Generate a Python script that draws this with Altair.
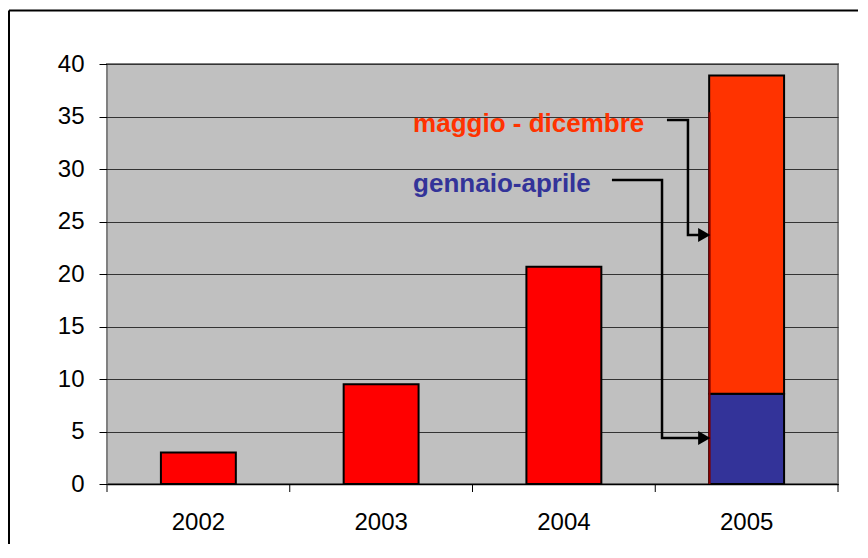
import altair as alt
import pandas as pd

# ---- bar data ----
years = ["2002", "2003", "2004", "2005", "2005"]
parts = ["anno", "anno", "anno", "gennaio-aprile", "maggio - dicembre"]
values = [3.0, 9.5, 20.7, 8.6, 30.3]
bar_colors = ["#FF0000", "#FF0000", "#FF0000", "#333399", "#FF3300"]
stack_order = [0, 0, 0, 0, 1]

# ---- annotation data (x in category units 0..4, y in value units) ----
label_text = ["maggio - dicembre", "gennaio-aprile"]
label_x = [1.675, 1.675]
label_y = [33.5, 27.8]
label_color = ["#FF3300", "#333399"]

arrow_id = ["a", "a", "a", "a", "b", "b", "b", "b"]
arrow_i = [0, 1, 2, 3, 0, 1, 2, 3]
arrow_x = [3.064, 3.179, 3.179, 3.262, 2.763, 3.037, 3.037, 3.262]
arrow_y = [34.67, 34.67, 23.71, 23.71, 28.95, 28.95, 4.38, 4.38]

head_x = [3.268, 3.268]
head_y = [23.71, 4.38]

shadow_x = [3.297]
shadow_y = [0.0]
shadow_y2 = [35.4]

# category boundaries for the x-axis tick marks
boundary_x = [0, 1, 2, 3, 4]

bars = pd.DataFrame({"year": years, "part": parts, "value": values,
                     "color": bar_colors, "ord": stack_order})
labels = pd.DataFrame({"t": label_text, "x": label_x, "y": label_y, "c": label_color})
arrows = pd.DataFrame({"id": arrow_id, "i": arrow_i, "x": arrow_x, "y": arrow_y})
heads = pd.DataFrame({"x": head_x, "y": head_y})
shadow = pd.DataFrame({"x": shadow_x, "y": shadow_y, "y2": shadow_y2})
bounds = pd.DataFrame({"x": boundary_x})

FONT = "Liberation Sans"
yscale = alt.Scale(domain=[0, 40], nice=False)
yaxis = alt.Axis(values=[0, 5, 10, 15, 20, 25, 30, 35, 40], title=None, grid=True,
                 gridColor="#333333", gridWidth=1, domain=False, tickColor="#000000",
                 tickSize=8, labelFont=FONT, labelFontSize=24, labelColor="#000000",
                 labelPadding=15)
xq = alt.Scale(domain=[0, 4], nice=False, zero=False)

bar_layer = alt.Chart(bars).mark_bar(stroke="#000000", strokeWidth=2).encode(
    x=alt.X("year:N", sort=["2002", "2003", "2004", "2005"],
            scale=alt.Scale(paddingInner=0.59, paddingOuter=0.295),
            axis=alt.Axis(title=None, labelAngle=0, ticks=False,
                          domainColor="#000000", domainWidth=1.5,
                          labelFont=FONT, labelFontSize=24, labelColor="#000000",
                          labelPadding=26)),
    y=alt.Y("value:Q", scale=yscale, axis=yaxis, stack="zero"),
    color=alt.Color("color:N", scale=None),
    detail="part:N",
    order=alt.Order("ord:Q"),
)

tick_layer = alt.Chart(bounds).mark_rule(color="#000000", strokeWidth=1).encode(
    x=alt.X("x:Q", scale=xq, axis=None),
    y=alt.value(420),
    y2=alt.value(428),
)

shadow_layer = alt.Chart(shadow).mark_rule(color="#8B0000", strokeWidth=2).encode(
    x=alt.X("x:Q", scale=xq, axis=None),
    y=alt.Y("y:Q", scale=yscale, axis=yaxis),
    y2="y2:Q",
)

arrow_layer = alt.Chart(arrows).mark_line(color="#000000", strokeWidth=2.5,
                                          strokeJoin="miter").encode(
    x=alt.X("x:Q", scale=xq, axis=None),
    y=alt.Y("y:Q", scale=yscale, axis=yaxis),
    detail="id:N",
    order="i:Q",
)

head_layer = alt.Chart(heads).mark_point(shape="triangle-right", filled=True, size=200,
                                         color="#000000", opacity=1).encode(
    x=alt.X("x:Q", scale=xq, axis=None),
    y=alt.Y("y:Q", scale=yscale, axis=yaxis),
)

text_layer = alt.Chart(labels).mark_text(align="left", baseline="alphabetic",
                                         font=FONT, fontSize=26,
                                         fontWeight="bold").encode(
    x=alt.X("x:Q", scale=xq, axis=None),
    y=alt.Y("y:Q", scale=yscale, axis=yaxis),
    text="t:N",
    color=alt.Color("c:N", scale=None),
)

frame_left = alt.Chart(shadow).mark_rule(color="#000000", strokeWidth=2).encode(
    x=alt.value(-98), y=alt.value(-53.5), y2=alt.value(700))
frame_top = alt.Chart(shadow).mark_rule(color="#000000", strokeWidth=2).encode(
    x=alt.value(-98), x2=alt.value(1000), y=alt.value(-53.5))

chart = alt.layer(bar_layer, tick_layer, shadow_layer, arrow_layer, head_layer, text_layer,
                  frame_left, frame_top).resolve_scale(x="independent").properties(
    width=731, height=420,
    autosize=alt.AutoSizeParams(type="none"),
    padding={"left": 99, "top": 56, "right": 20, "bottom": 60},
    background="#FFFFFF",
).configure_view(fill="#C0C0C0", stroke="#808080", strokeWidth=2)

chart.save("out.html", embed_options={"renderer": "svg", "actions": False})
